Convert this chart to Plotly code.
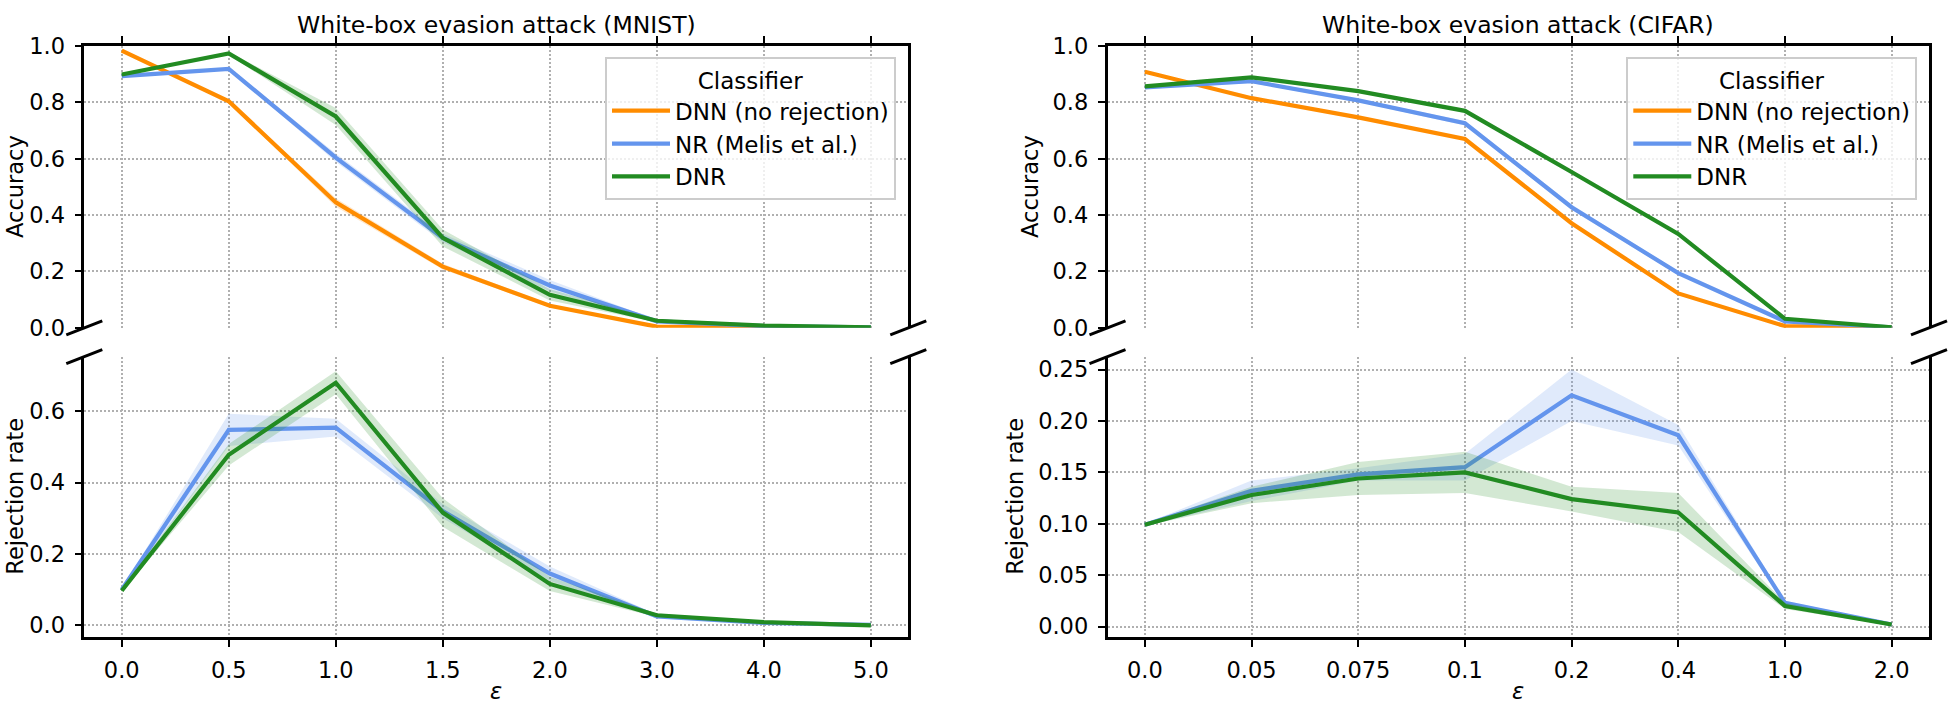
import plotly.graph_objects as go

# epsilon values (categorical, equally spaced)
eps_mnist = ["0.0", "0.5", "1.0", "1.5", "2.0", "3.0", "4.0", "5.0"]
eps_cifar = ["0.0", "0.05", "0.075", "0.1", "0.2", "0.4", "1.0", "2.0"]

# MNIST accuracy
mnist_acc_dnn = [0.984, 0.804, 0.445, 0.217, 0.078, 0.004, 0.001, 0.0]
mnist_acc_nr = [0.893, 0.919, 0.604, 0.319, 0.150, 0.023, 0.006, 0.002]
mnist_acc_dnr = [0.899, 0.974, 0.750, 0.319, 0.117, 0.025, 0.008, 0.002]
mnist_acc_dnn_std = [0.002, 0.005, 0.015, 0.010, 0.006, 0.002, 0.001, 0.0]
mnist_acc_nr_std = [0.005, 0.005, 0.015, 0.015, 0.020, 0.005, 0.002, 0.001]
mnist_acc_dnr_std = [0.005, 0.005, 0.030, 0.030, 0.020, 0.005, 0.002, 0.001]

# MNIST rejection rate
mnist_rej_nr = [0.100, 0.548, 0.554, 0.320, 0.145, 0.025, 0.007, 0.001]
mnist_rej_dnr = [0.097, 0.478, 0.680, 0.316, 0.116, 0.028, 0.009, 0.0]
mnist_rej_nr_std = [0.003, 0.045, 0.025, 0.020, 0.020, 0.005, 0.002, 0.001]
mnist_rej_dnr_std = [0.003, 0.030, 0.032, 0.040, 0.020, 0.005, 0.002, 0.001]

# CIFAR accuracy
cifar_acc_dnn = [0.909, 0.815, 0.747, 0.670, 0.371, 0.122, 0.006, 0.002]
cifar_acc_nr = [0.853, 0.875, 0.807, 0.726, 0.428, 0.194, 0.023, 0.002]
cifar_acc_dnr = [0.857, 0.889, 0.840, 0.770, 0.553, 0.333, 0.032, 0.002]
cifar_acc_dnn_std = [0.003, 0.003, 0.004, 0.004, 0.005, 0.004, 0.002, 0.001]
cifar_acc_nr_std = [0.004, 0.006, 0.006, 0.008, 0.010, 0.006, 0.003, 0.001]
cifar_acc_dnr_std = [0.003, 0.004, 0.004, 0.005, 0.005, 0.004, 0.003, 0.001]

# CIFAR rejection rate
cifar_rej_nr = [0.099, 0.132, 0.148, 0.155, 0.225, 0.186, 0.023, 0.002]
cifar_rej_dnr = [0.099, 0.128, 0.144, 0.150, 0.124, 0.111, 0.020, 0.002]
cifar_rej_nr_std = [0.001, 0.010, 0.006, 0.013, 0.025, 0.010, 0.002, 0.001]
cifar_rej_dnr_std = [0.001, 0.008, 0.016, 0.020, 0.012, 0.019, 0.003, 0.001]

names = ["DNN (no rejection)", "NR (Melis et al.)", "DNR"]
colors = ["#ff8c00", "#6495ed", "#228b22"]
bands = ["rgba(255,140,0,0.2)", "rgba(100,149,237,0.2)", "rgba(34,139,34,0.2)"]

FONT = "DejaVu Sans"
FS = 22.5

fig = go.Figure()


def add_series(x, mean, std, k, xa, ya, legend, showlegend):
    up = [m + s for m, s in zip(mean, std)]
    lo = [m - s for m, s in zip(mean, std)]
    fig.add_trace(go.Scatter(
        x=list(x) + list(x)[::-1], y=up + lo[::-1],
        fill="toself", fillcolor=bands[k], mode="lines",
        line=dict(width=0), hoverinfo="skip", showlegend=False,
        xaxis=xa, yaxis=ya))
    fig.add_trace(go.Scatter(
        x=x, y=mean, mode="lines", name=names[k],
        line=dict(color=colors[k], width=4.2),
        legend=legend, legendgroup=legend + str(k), showlegend=showlegend,
        xaxis=xa, yaxis=ya))


add_series(eps_mnist, mnist_acc_dnn, mnist_acc_dnn_std, 0, "x", "y", "legend", True)
add_series(eps_mnist, mnist_acc_nr, mnist_acc_nr_std, 1, "x", "y", "legend", True)
add_series(eps_mnist, mnist_acc_dnr, mnist_acc_dnr_std, 2, "x", "y", "legend", True)
add_series(eps_mnist, mnist_rej_nr, mnist_rej_nr_std, 1, "x2", "y2", "legend", False)
add_series(eps_mnist, mnist_rej_dnr, mnist_rej_dnr_std, 2, "x2", "y2", "legend", False)

add_series(eps_cifar, cifar_acc_dnn, cifar_acc_dnn_std, 0, "x3", "y3", "legend2", True)
add_series(eps_cifar, cifar_acc_nr, cifar_acc_nr_std, 1, "x3", "y3", "legend2", True)
add_series(eps_cifar, cifar_acc_dnr, cifar_acc_dnr_std, 2, "x3", "y3", "legend2", True)
add_series(eps_cifar, cifar_rej_nr, cifar_rej_nr_std, 1, "x4", "y4", "legend2", False)
add_series(eps_cifar, cifar_rej_dnr, cifar_rej_dnr_std, 2, "x4", "y4", "legend2", False)

W, H = 1948, 714
left_dom = [84.3 / W, 908.3 / W]
right_dom = [1107.5 / W, 1929 / W]
top_dom = [1 - 326.7 / H, 1 - 34.3 / H]
bot_dom = [1 - 648 / H, 1 - 356.7 / H]

grid = dict(showgrid=True, gridcolor="#b0b0b0", gridwidth=1.5, griddash="2px,2px",
            zeroline=False, showline=True, linecolor="black", linewidth=2.5,
            ticks="outside", ticklen=7, tickwidth=2, tickcolor="black",
            tickfont=dict(family=FONT, size=FS, color="black"))


def xax(dom, anchor, top, labels):
    d = dict(grid, domain=dom, anchor=anchor, type="category",
             categoryorder="array", categoryarray=labels, range=[-0.35, 7.35])
    if top:
        d.update(side="top", showticklabels=False)
    else:
        d.update(side="bottom", ticklabelstandoff=4)
    return d


def yax(dom, anchor, rng, dtick, fmt):
    return dict(grid, domain=dom, anchor=anchor, range=rng, dtick=dtick, tick0=0,
                tickformat=fmt, mirror=True, ticklabelstandoff=5)


fig.update_layout(
    width=W, height=H,
    margin=dict(l=0, r=0, t=0, b=0),
    paper_bgcolor="white", plot_bgcolor="white",
    font=dict(family=FONT, size=FS, color="black"),
    xaxis=xax(left_dom, "y", True, eps_mnist),
    yaxis=yax(top_dom, "x", [0, 1.0], 0.2, ".1f"),
    xaxis2=xax(left_dom, "y2", False, eps_mnist),
    yaxis2=yax(bot_dom, "x2", [-0.034, 0.753], 0.2, ".1f"),
    xaxis3=xax(right_dom, "y3", True, eps_cifar),
    yaxis3=yax(top_dom, "x3", [0, 1.0], 0.2, ".1f"),
    xaxis4=xax(right_dom, "y4", False, eps_cifar),
    yaxis4=yax(bot_dom, "x4", [-0.0106, 0.2625], 0.05, ".2f"),
)

leg = dict(yanchor="top", xanchor="right", y=1 - 46 / H,
           bgcolor="rgba(255,255,255,0.8)", bordercolor="#cccccc", borderwidth=2,
           font=dict(family=FONT, size=23, color="black"), tracegroupgap=0,
           itemwidth=58,
           title=dict(text="Classifier", side="top center",
                      font=dict(family=FONT, size=23, color="black")))
fig.update_layout(legend=dict(leg, x=896 / W), legend2=dict(leg, x=1917.3 / W))

# titles
for xr, txt in [("x", "White-box evasion attack (MNIST)"), ("x3", "White-box evasion attack (CIFAR)")]:
    fig.add_annotation(text=txt, xref=xr + " domain", yref="paper", x=0.5, y=1 - 12 / H,
                       xanchor="center", yanchor="middle", showarrow=False,
                       font=dict(family=FONT, size=23.5, color="black"))

# y labels
for xp, yp, txt in [(15, 180.5, "Accuracy"), (15, 502, "Rejection rate"),
                    (1030, 180.5, "Accuracy"), (1015, 502, "Rejection rate")]:
    fig.add_annotation(text=txt, xref="paper", yref="paper", x=xp / W, y=1 - yp / H,
                       xanchor="center", yanchor="middle", textangle=-90, showarrow=False,
                       font=dict(family=FONT, size=FS, color="black"))

# x labels
for xr in ["x2", "x4"]:
    fig.add_annotation(text="<i>ε</i>", xref=xr + " domain", yref="paper", x=0.5, y=1 - 704 / H,
                       xanchor="center", yanchor="middle", showarrow=False,
                       font=dict(family=FONT, size=FS, color="black"))

# broken-axis marks
for xa, ya_top, ya_bot in [("x", "y", "y2"), ("x3", "y3", "y4")]:
    for xv in [0, 1]:
        for ya, yv in [(ya_top, 0), (ya_bot, 1)]:
            fig.add_shape(type="line", xref=xa + " domain", yref=ya + " domain",
                          xsizemode="pixel", ysizemode="pixel", xanchor=xv, yanchor=yv,
                          x0=-18, x1=18, y0=-7, y1=7,
                          line=dict(color="black", width=3))

fig.write_html("out.html", config={"displayModeBar": False},
               post_script="document.body.style.margin='0px';")
